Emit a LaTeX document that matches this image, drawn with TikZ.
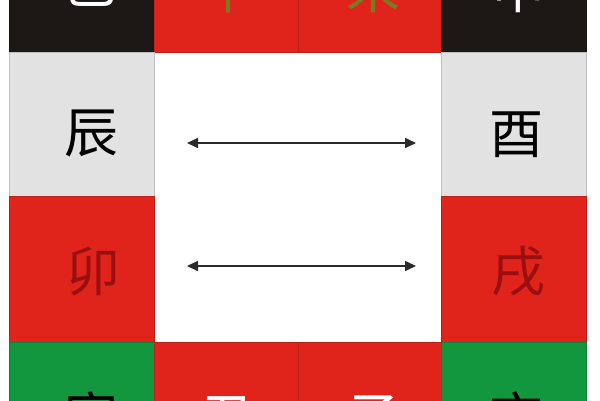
\documentclass[tikz,border=0pt]{standalone}
\usepackage{fontspec}
\newfontfamily\cjk{Noto Sans CJK SC}
\usetikzlibrary{arrows.meta}
\definecolor{cred}{HTML}{E0241C}
\definecolor{cgreen}{HTML}{12973F}
\definecolor{cblack}{HTML}{1C1816}
\definecolor{cgrey}{HTML}{E2E2E2}
\definecolor{cdarkred}{HTML}{9A1010}
\definecolor{colive}{HTML}{7A7A22}
\definecolor{carrow}{HTML}{2A2A2A}
\tikzset{
  cellbox/.style={rectangle, inner sep=0pt, minimum width=145pt, draw=#1!85!black, line width=0.6pt, fill=#1},
  glyph/.style={inner sep=0pt, font=\cjk\fontsize{54}{60}\selectfont},
  link/.style={draw=carrow, line width=1.6pt, {Triangle[length=11pt,width=10pt]}-{Triangle[length=11pt,width=10pt]}}
}
\begin{document}
\begin{tikzpicture}[x=1pt,y=-1pt]
\useasboundingbox (0,0) rectangle (600,400);
\clip (0,0) rectangle (600,400);
\fill[white] (0,0) rectangle (600,400);
% top row
\node[cellbox=cblack, minimum height=144pt] (c1) at (81.5,-20) {};
\node[cellbox=cred, minimum height=144pt] (c2) at (226.5,-20) {};
\node[cellbox=cred, minimum height=144pt] (c3) at (371,-20) {};
\node[cellbox=cblack, minimum height=144pt] (c4) at (514,-20) {};
% middle rows
\node[cellbox=cgrey, minimum height=144pt] (c5) at (81.5,124) {};
\node[cellbox=cgrey, minimum height=144pt] (c6) at (514,124) {};
\node[cellbox=cred, minimum height=146pt] (c7) at (81.5,269) {};
\node[cellbox=cred, minimum height=146pt] (c8) at (514,269) {};
% bottom row
\node[cellbox=cgreen, minimum height=146pt] (c9) at (81.5,415) {};
\node[cellbox=cred, minimum height=146pt] (c10) at (226.5,415) {};
\node[cellbox=cred, minimum height=146pt] (c11) at (371,415) {};
\node[cellbox=cgreen, minimum height=146pt] (c12) at (514,415) {};
% glyphs
\node[glyph, text=white] (t1) at (90,-16) {巳};
\node[glyph, text=colive] (t2) at (228,-12) {午};
\node[glyph, text=colive] (t3) at (373,-12) {未};
\node[glyph, text=white] (t4) at (518,-12) {申};
\node[glyph, text=black] (t5) at (91,134) {辰};
\node[glyph, text=black] (t6) at (516,135) {酉};
\node[glyph, text=cdarkred] (t7) at (93,271) {卯};
\node[glyph, text=cdarkred] (t8) at (518,271) {戌};
\node[glyph, text=black] (t9) at (91,417) {寅};
\node[glyph, text=white] (t10) at (228,419) {丑};
\node[glyph, text=white] (t11) at (373,419) {子};
\node[glyph, text=black] (t12) at (516,417) {亥};
% arrows
\coordinate (a1) at (187,143);
\coordinate (b1) at (416,143);
\coordinate (a2) at (187,266);
\coordinate (b2) at (416,266);
\draw[link] (a1) -- (b1);
\draw[link] (a2) -- (b2);
\end{tikzpicture}
\end{document}
